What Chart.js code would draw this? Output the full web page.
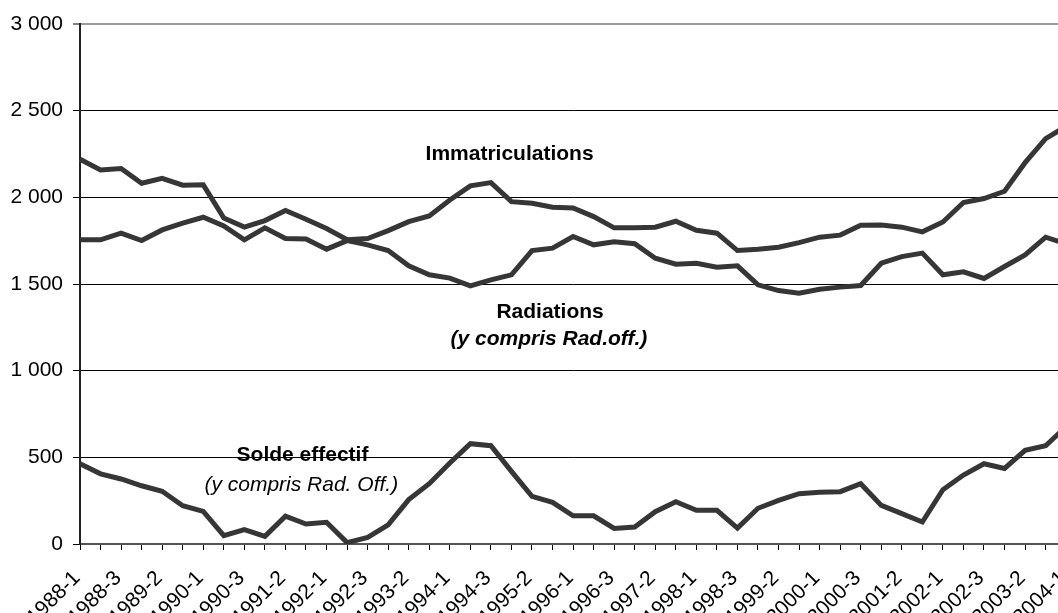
<!DOCTYPE html>
<html lang="fr">
<head>
<meta charset="utf-8">
<title>Immatriculations, radiations et solde effectif</title>
<script src="https://cdn.jsdelivr.net/npm/chart.js@4.4.1/dist/chart.umd.min.js"></script>
<style>
    html, body {
        margin: 0;
        padding: 0;
        background: #ffffff;
        overflow: hidden;
    }
    /* the reference is cut on the right and at the bottom, so the chart is a bit bigger than the window */
    #wrap {
        position: relative;
        width: 1100px;
        height: 613px;
    }
</style>
</head>
<body>
<div id="wrap"><canvas id="soldeChart"></canvas></div>
<script>
// Periods (three per year), 1988-1 to 2004-1
const periods = [
    '1988-1', '1988-2', '1988-3', '1989-1', '1989-2', '1989-3', '1990-1', '1990-2', '1990-3',
    '1991-1', '1991-2', '1991-3', '1992-1', '1992-2', '1992-3', '1993-1', '1993-2', '1993-3',
    '1994-1', '1994-2', '1994-3', '1995-1', '1995-2', '1995-3', '1996-1', '1996-2', '1996-3',
    '1997-1', '1997-2', '1997-3', '1998-1', '1998-2', '1998-3', '1999-1', '1999-2', '1999-3',
    '2000-1', '2000-2', '2000-3', '2001-1', '2001-2', '2001-3', '2002-1', '2002-2', '2002-3',
    '2003-1', '2003-2', '2003-3', '2004-1'
];

const immatriculations = [
    2220, 2158, 2166, 2081, 2110, 2070, 2072, 1880, 1828, 1866, 1924, 1874, 1820, 1755, 1762, 1808,
    1860, 1893, 1985, 2066, 2085, 1975, 1966, 1943, 1939, 1889, 1824, 1824, 1828, 1862, 1810, 1793,
    1693, 1701, 1712, 1739, 1770, 1782, 1839, 1841, 1828, 1801, 1858, 1970, 1993, 2035, 2200, 2339,
    2410
];

const radiations = [
    1755, 1755, 1793, 1751, 1812, 1851, 1885, 1835, 1755, 1824, 1762, 1759, 1701, 1750, 1726, 1693,
    1605, 1553, 1534, 1489, 1524, 1553, 1693, 1707, 1774, 1726, 1743, 1732, 1649, 1614, 1620, 1597,
    1605, 1495, 1462, 1447, 1470, 1482, 1491, 1620, 1658, 1678, 1553, 1570, 1532, 1601, 1668, 1770,
    1731
];

const soldeEffectif = [
    463, 405, 375, 336, 304, 221, 188, 48, 83, 44, 160, 115, 125, 8, 38, 110,
    256, 348, 467, 579, 567, 419, 275, 240, 163, 163, 90, 98, 186, 244, 194, 194,
    92, 206, 252, 290, 298, 302, 348, 223, 175, 127, 313, 398, 463, 436, 540, 567,
    678
];

const yTicks = [0, 500, 1000, 1500, 2000, 2500, 3000];

const FONT = '"Liberation Sans", Arial, Helvetica, sans-serif';
const LINE_COLOR = '#363636';

// Text labels placed on the chart (x = period index, y = value)
const chartLabels = [
    { text: 'Immatriculations', x: 20.91, y: 2248, style: 'bold' },
    { text: 'Radiations', x: 22.88, y: 1337, style: 'bold' },
    { text: '(y compris Rad.off.)', x: 22.82, y: 1184, style: 'italic bold' },
    { text: 'Solde effectif', x: 10.83, y: 515, style: 'bold' },
    { text: '(y compris Rad. Off.)', x: 10.77, y: 342, style: 'italic' }
];

const labelPlugin = {
    id: 'seriesLabels',
    afterDatasetsDraw(chart) {
        const ctx = chart.ctx;
        const xs = chart.scales.x;
        const ys = chart.scales.y;
        ctx.save();
        ctx.fillStyle = '#000';
        ctx.textAlign = 'center';
        ctx.textBaseline = 'middle';
        chartLabels.forEach(l => {
            ctx.font = `${l.style} 21px ${FONT}`;
            ctx.fillText(l.text, xs.getPixelForValue(l.x), ys.getPixelForValue(l.y));
        });
        ctx.restore();
    }
};

function lineSet(label, data) {
    return {
        label: label,
        data: data,
        borderColor: LINE_COLOR,
        backgroundColor: LINE_COLOR,
        borderWidth: 5,
        pointRadius: 0,
        tension: 0,
        fill: false
    };
}

const canvas = document.getElementById('soldeChart');

new Chart(canvas.getContext('2d'), {
    type: 'line',
    data: {
        labels: periods,
        datasets: [
            lineSet('Immatriculations', immatriculations),
            lineSet('Radiations (y compris Rad.off.)', radiations),
            lineSet('Solde effectif (y compris Rad. Off.)', soldeEffectif)
        ]
    },
    options: {
        responsive: true,
        maintainAspectRatio: false,
        animation: false,
        layout: {
            padding: { top: 24, right: 32, bottom: 0, left: 0 }
        },
        scales: {
            x: {
                type: 'category',
                offset: false,
                afterFit(scale) { scale.height = 69; },
                grid: {
                    drawOnChartArea: false,
                    drawTicks: true,
                    tickLength: 6,
                    tickColor: '#000',
                    tickWidth: 1
                },
                border: { display: true, color: '#555', width: 2 },
                ticks: {
                    autoSkip: false,
                    maxRotation: 45,
                    minRotation: 45,
                    padding: 16,
                    labelOffset: -3,
                    color: '#000',
                    font: { family: FONT, size: 21 },
                    callback: (value, index) => (index % 2 === 0 ? periods[index] : '')
                }
            },
            y: {
                min: 0,
                max: 3000,
                afterFit(scale) { scale.width = 80; },
                afterBuildTicks(scale) {
                    scale.ticks = yTicks.map(v => ({ value: v }));
                },
                grid: {
                    color: ctx => (ctx.tick && ctx.tick.value === 3000 ? '#9a9a9a' : '#000'),
                    lineWidth: ctx => (ctx.tick && ctx.tick.value === 3000 ? 2 : 1),
                    tickColor: '#000',
                    tickLength: 7,
                    tickWidth: 1
                },
                border: { display: true, color: '#222', width: 2 },
                ticks: {
                    padding: 10,
                    color: '#000',
                    font: { family: FONT, size: 21 },
                    callback: v => String(v).replace(/\B(?=(\d{3})+(?!\d))/g, ' ')
                }
            }
        },
        plugins: {
            legend: { display: false },
            tooltip: { enabled: false }
        }
    },
    plugins: [labelPlugin]
});
</script>
</body>
</html>
